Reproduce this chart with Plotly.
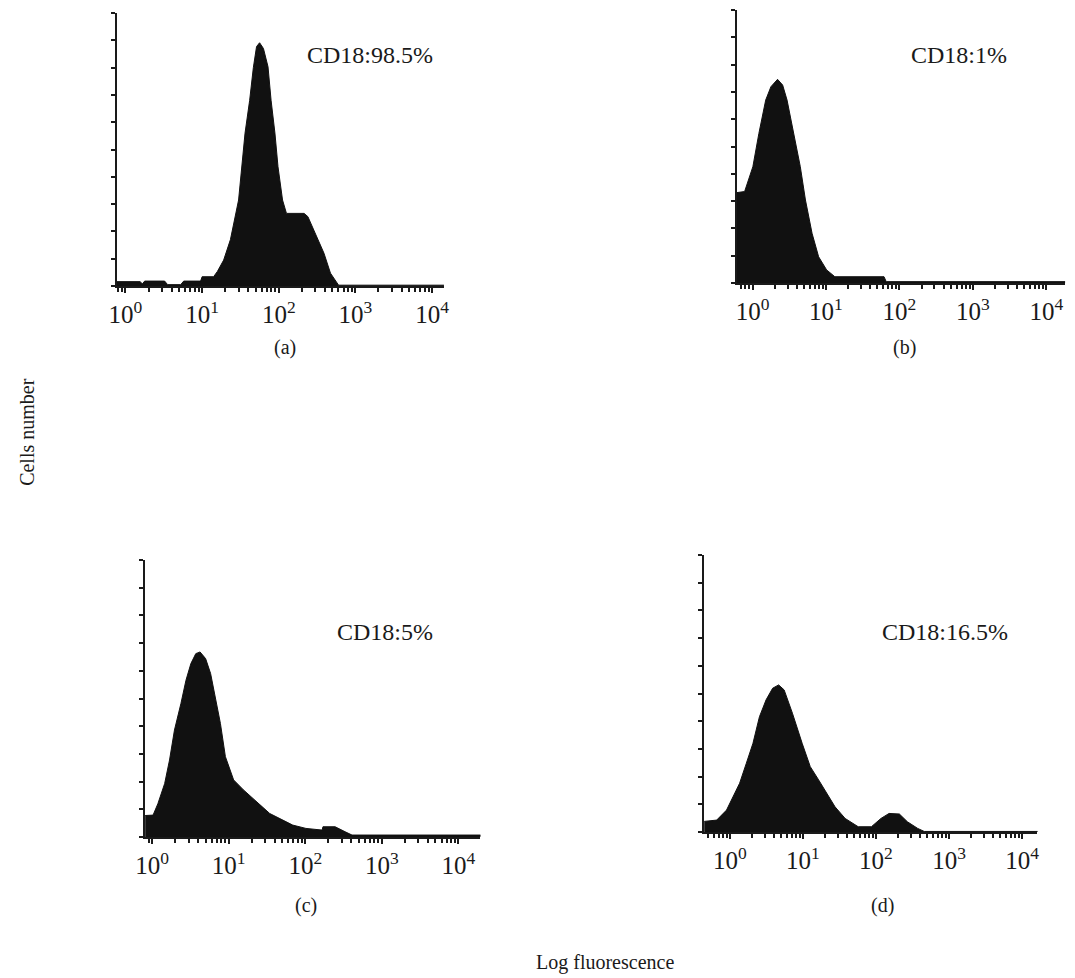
import plotly.graph_objects as go

# ---- data (fluorescence intensity, relative cell count) ----
a_fluor = [0.5, 1.55, 1.66, 1.78, 3.24, 3.55, 5.25, 5.75, 9.55, 10.0, 14.1, 15.8, 19.1, 23.4,
           29.9, 36.3, 41.7, 46.6, 51.3, 56.2, 63.1, 72.4, 79.4, 89.1, 97.7, 112, 126, 214,
           240, 302, 389, 473, 603, 25000]
a_count = [1.6, 1.6, 0.8, 1.8, 1.8, 0.5, 0.5, 1.8, 1.8, 3.4, 3.4, 5.3, 9.5, 17,
           31.5, 56, 68, 80, 87.7, 89.1, 87, 80.3, 68, 56, 43.7, 31.5, 26.6, 26.6,
           25.4, 19.3, 12, 4.7, 0.3, 0.3]

b_fluor = [0.5, 0.78, 1.01, 1.22, 1.51, 1.78, 2.19, 2.57, 2.95, 3.63, 4.47, 5.25, 6.46,
           7.94, 10.2, 13.2, 61.7, 66, 25000]
b_count = [32.8, 33.5, 42.6, 54.8, 67, 71.9, 74.6, 72.5, 67, 54.8, 42.6, 30.4, 18.2,
           9.6, 4.8, 2.3, 2.3, 0.5, 0.5]

c_fluor = [0.63, 1.03, 1.19, 1.46, 1.69, 1.96, 2.38, 2.77, 3.21, 3.72, 4.23, 5.0, 5.81,
           6.73, 7.8, 9.06, 11.6, 15.6, 20.9, 25.7, 34.3, 46.1, 68.5, 102, 166, 170, 245,
           331, 407, 25000]
c_count = [7.6, 7.9, 12, 19.3, 27.8, 38.6, 48.2, 56.6, 62.6, 66.2, 66.8, 64.4, 59,
           50.6, 41, 29, 20.6, 17, 14, 11.6, 8.5, 6.7, 4.3, 3.1, 2.5, 3.7, 3.7,
           1.9, 0.7, 0.7]

d_fluor = [0.4, 0.66, 0.90, 1.11, 1.36, 1.68, 2.07, 2.54, 3.13, 3.85, 4.65, 5.53, 7.18,
           9.77, 12.6, 16.4, 21.4, 27.5, 37.8, 57.1, 86.5, 117, 151, 209, 269, 372, 457, 25000]
d_count = [3.7, 4.3, 7.9, 12.8, 17.6, 24.8, 32, 41.6, 47.7, 51.9, 53.1, 51.3, 42.9,
           32, 23.6, 18.8, 14, 9.1, 4.9, 1.9, 1.9, 4.9, 6.7, 6.5, 3.7, 1.3, 0.2, 0.2]

panel_labels = ["(a)", "(b)", "(c)", "(d)"]
cd18_texts = ["CD18:98.5%", "CD18:1%", "CD18:5%", "CD18:16.5%"]
decade_vals = [1, 10, 100, 1000, 10000]
decade_text = ["10<sup>0</sup>", "10<sup>1</sup>", "10<sup>2</sup>", "10<sup>3</sup>", "10<sup>4</sup>"]
minor_vals = [0.5, 0.6, 0.7, 0.8, 0.9] + [m * 10 ** d for d in range(4) for m in range(2, 10)]

# the page body has an 8px default margin: the figure starts 8px in from the window corner
OFF = 8
W, H = 1067, 970
FONT = "Liberation Serif"
INK = "#1a1a1a"


def fx(X):
    return (X - OFF) / W


def fy(Y):
    return 1 - (Y - OFF) / H


# panel geometry in screen pixels: (left, right, top, bottom), log x-range
geom = [
    (108, 440, 13, 286, [-0.116, 4.155]),
    (737, 1070, 10, 283, [-0.215, 4.255]),
    (137, 477, 560, 837, [-0.09, 4.286]),
    (704, 1042, 555, 832, [-0.351, 4.21]),
]
text_pos = [(365, 55), (962, 55), (380, 632), (948, 632)]
label_pos = [(279, 347), (907, 347), (300, 905), (885, 905)]

series = [(a_fluor, a_count), (b_fluor, b_count), (c_fluor, c_count), (d_fluor, d_count)]

fig = go.Figure()
layout = dict(
    width=W, height=H,
    margin=dict(l=0, r=0, t=0, b=0),
    paper_bgcolor="white", plot_bgcolor="white",
    showlegend=False,
    font=dict(family=FONT, color=INK),
)
annotations = []
for i, ((xs, ys), (l, r, t, b, xr)) in enumerate(zip(series, geom)):
    n = "" if i == 0 else str(i + 1)
    fig.add_trace(go.Scatter(
        x=xs, y=ys, xaxis="x" + n, yaxis="y" + n,
        mode="lines", line=dict(color="#111111", width=1),
        fill="tozeroy", fillcolor="#111111", hoverinfo="skip",
    ))
    layout["xaxis" + n] = dict(
        type="log", range=xr, domain=[fx(l), min(fx(r), 1)], anchor="y" + n,
        showline=True, linecolor=INK, linewidth=2, showgrid=False, zeroline=False,
        ticks="outside", ticklen=5, tickwidth=1.5, tickcolor=INK,
        tickmode="array", tickvals=decade_vals, ticktext=decade_text,
        tickfont=dict(family=FONT, size=25, color=INK),
        minor=dict(tickmode="array", tickvals=minor_vals, ticks="outside",
                   ticklen=4, tickwidth=1.5, tickcolor=INK, showgrid=False),
    )
    layout["yaxis" + n] = dict(
        range=[0, 100], domain=[fy(b), fy(t)], anchor="x" + n,
        showline=True, linecolor=INK, linewidth=2, showgrid=False, zeroline=False,
        ticks="outside", ticklen=4, tickwidth=2, tickcolor=INK,
        tickmode="array", tickvals=list(range(0, 101, 10)), showticklabels=False,
    )
    tx, ty = text_pos[i]
    annotations.append(dict(text=cd18_texts[i], x=fx(tx), y=fy(ty), xref="paper", yref="paper",
                            showarrow=False, xanchor="center", yanchor="middle",
                            font=dict(family=FONT, size=24, color=INK)))
    lx, ly = label_pos[i]
    annotations.append(dict(text=panel_labels[i], x=fx(lx), y=fy(ly), xref="paper", yref="paper",
                            showarrow=False, xanchor="center", yanchor="middle",
                            font=dict(family=FONT, size=20, color=INK)))

annotations.append(dict(text="Cells number", x=fx(17), y=fy(432), xref="paper", yref="paper",
                        showarrow=False, textangle=-90, xanchor="center", yanchor="middle",
                        font=dict(family=FONT, size=20, color=INK)))
annotations.append(dict(text="Log fluorescence", x=fx(603), y=fy(962), xref="paper", yref="paper",
                        showarrow=False, xanchor="center", yanchor="middle",
                        font=dict(family=FONT, size=20, color=INK)))
layout["annotations"] = annotations
fig.update_layout(**layout)
fig.write_html("out.html")
